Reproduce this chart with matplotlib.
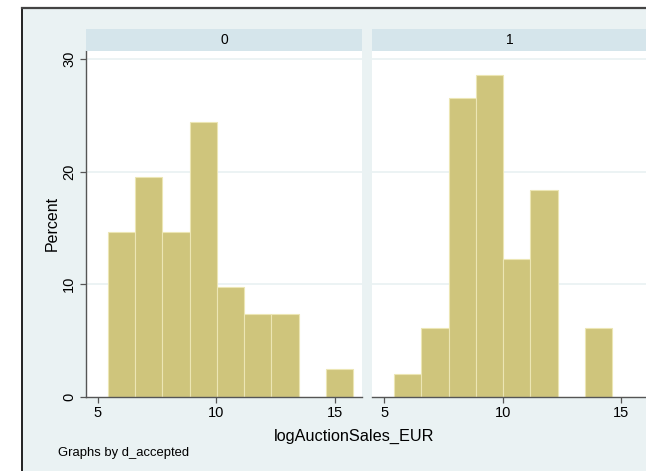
import matplotlib
matplotlib.use("Agg")
import matplotlib.pyplot as plt
from matplotlib.patches import Rectangle
from matplotlib.lines import Line2D

plt.rcParams['font.family'] = ['Liberation Sans', 'DejaVu Sans']

# Data (percent per bin)
bin_edges = [5.42, 6.57, 7.72, 8.87, 10.02, 11.17, 12.32, 13.47, 14.62, 15.77]
panel_labels = ["0", "1"]
pct_0 = [14.63, 19.51, 14.63, 24.39, 9.76, 7.32, 7.32, 0.0, 2.44]
pct_1 = [2.04, 6.12, 26.53, 28.57, 12.24, 18.37, 0.0, 6.12, 0.0]
x_ticks = [5, 10, 15]
y_ticks = [0, 10, 20, 30]
x_label = "logAuctionSales_EUR"
y_label = "Percent"
note = "Graphs by d_accepted"

W, H = 646, 471
BG = '#eaf2f3'
STRIP = '#d5e5eb'
BAR = '#cfc57c'
BAR_EDGE = '#ece6b4'
AXC = '#555555'

fig = plt.figure(figsize=(W / 100, H / 100), dpi=100)
fig.patch.set_facecolor('white')

# graph region background and border
fig.patches.append(Rectangle((22 / W, 0), 1 - 22 / W, 1 - 7.5 / H, transform=fig.transFigure,
                             facecolor=BG, edgecolor='none', zorder=-10))
fig.lines.append(Line2D([22 / W, 22 / W], [0, 1 - 7.5 / H], transform=fig.transFigure,
                        color='#222222', lw=1.4, zorder=-5))
fig.lines.append(Line2D([22 / W, 1], [1 - 7.5 / H, 1 - 7.5 / H], transform=fig.transFigure,
                        color='#444444', lw=1.6, zorder=-5))

bottom = (H - 396.5) / H
top = (H - 50.7) / H
pw = 276 / W
lefts = [86 / W, 372.3 / W]
strip_h = 21.2 / (396.5 - 50.7)

widths = [bin_edges[i + 1] - bin_edges[i] for i in range(len(bin_edges) - 1)]

for i, (lbl, vals) in enumerate(zip(panel_labels, [pct_0, pct_1])):
    ax = fig.add_axes([lefts[i], bottom, pw, top - bottom])
    ax.set_zorder(5)
    ax.set_facecolor('white')
    for yv in y_ticks[1:]:
        ax.axhline(yv, color=BG, lw=1.3, zorder=1)
    ax.bar(bin_edges[:-1], vals, width=widths, align='edge', color=BAR,
           edgecolor=BAR_EDGE, linewidth=0.8, zorder=2)
    ax.set_xlim(4.5, 16.15)
    ax.set_ylim(0, 30.75)
    ax.set_xticks(x_ticks)
    ax.set_xticklabels([str(t) for t in x_ticks], fontsize=10.5)
    for s in ['top', 'right']:
        ax.spines[s].set_visible(False)
    ax.spines['bottom'].set_color(AXC)
    ax.spines['bottom'].set_linewidth(1.0)
    ax.tick_params(axis='x', direction='out', length=4.5, width=0.9, color=AXC, pad=2)
    if i == 0:
        ax.spines['left'].set_color(AXC)
        ax.spines['left'].set_linewidth(1.0)
        ax.set_yticks(y_ticks)
        ax.set_yticklabels([str(t) for t in y_ticks], fontsize=10.5, rotation=90,
                           va='center')
        ax.tick_params(axis='y', direction='out', length=4.5, width=0.9, color=AXC, pad=2.5)
    else:
        ax.spines['left'].set_visible(False)
        ax.set_yticks([])
    # strip header
    ax.add_patch(Rectangle((0, 1), 1, strip_h, transform=ax.transAxes, facecolor=STRIP,
                           edgecolor='none', clip_on=False, zorder=3))
    ax.text(0.5, 1 + strip_h / 2, lbl, transform=ax.transAxes, ha='center', va='center',
            fontsize=10, color='black')

fig.text(354.5 / W, 1 - 436 / H, x_label, ha='center', va='center', fontsize=11.7)
fig.text(52 / W, 1 - 223.6 / H, y_label, ha='center', va='center', rotation=90, fontsize=11.5)
fig.text(58 / W, 1 - 453 / H, note, ha='left', va='center', fontsize=9.4)

fig.savefig('out.png', dpi=100)
